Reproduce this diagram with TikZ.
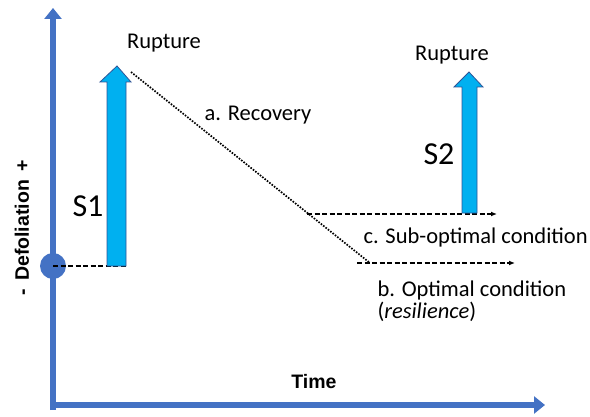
\documentclass[tikz,border=0pt]{standalone}
\usepackage{fontspec}
\setmainfont{Carlito}
\newfontfamily\axisfont{Liberation Sans}
\usetikzlibrary{arrows.meta}
\definecolor{axisblue}{RGB}{68,114,196}
\definecolor{shockfill}{RGB}{0,176,240}
\definecolor{shockline}{RGB}{47,85,151}

\begin{document}
\begin{tikzpicture}[x=1pt,y=1pt,
    axis/.style={axisblue, line width=6.5pt, -{Triangle[length=11pt,width=17pt]}},
    trend/.style={dash pattern=on 5pt off 2.5pt, line width=1.3pt, -{Latex[length=6pt,width=5pt]}},
    recover/.style={dash pattern=on 1.6pt off 1.4pt, line width=1.7pt},
    shock/.style={fill=shockfill, draw=shockline, line width=0.8pt},
    txt/.style={font=\fontsize{22.5}{22}\selectfont},
    big/.style={font=\fontsize{32}{36}\selectfont},
    axlab/.style={font=\axisfont\bfseries\fontsize{19.5}{22}\selectfont}]
    \useasboundingbox (0,0) rectangle (590,416);
    % axes
    \coordinate (O) at (53,11);
    \coordinate (Ytop) at (53,408);
    \coordinate (Xend) at (545,11);
    \draw[axis] (53,6) -- (Ytop);
    \draw[axis] (50,11) -- (Xend);
    \node[axlab, rotate=90] (ylab) at (22,188) {-\, Defoliation \,+};
    \node[axlab] (xlab) at (314,34) {Time};
    % starting state
    \coordinate (S) at (53,150);
    \coordinate (S1foot) at (126,150);
    \fill[axisblue] (S) circle (13);
    \draw[dash pattern=on 5pt off 2.5pt, line width=1.3pt] (S) -- (S1foot);
    % first shock
    \draw[shock] (107,150) -- (126,150) -- (126,334) -- (131,334) -- (117,350)
        -- (100,334) -- (107,334) -- cycle;
    \node[txt] (rup1) at (164,373) {Rupture};
    \node[big] (s1) at (88,210) {S1};
    % recovery
    \coordinate (R0) at (131,344);
    \coordinate (Rc) at (307,202);
    \coordinate (Rb) at (370,153);
    \draw[recover] (R0) -- (Rb);
    \node[txt] (rec) at (258,301) {a. Recovery};
    % sub-optimal and optimal trends
    \coordinate (Cend) at (497,202);
    \coordinate (Bstart) at (357,153);
    \coordinate (Bend) at (515,153);
    \draw[trend] (Rc) -- (Cend);
    \draw[trend] (Bstart) -- (Bend);
    \node[txt, anchor=west] (clab) at (360,178) {c. Sub-optimal condition};
    \node[txt, anchor=west, align=left] (blab) at (374,115) {b. Optimal condition\\(\textit{resilience})};
    % second shock
    \draw[shock] (462,203) -- (477,203) -- (477,329) -- (483,329) -- (469,344)
        -- (454,329) -- (462,329) -- cycle;
    \node[txt] (rup2) at (452,361) {Rupture};
    \node[big] (s2) at (439,262) {S2};
\end{tikzpicture}
\end{document}
